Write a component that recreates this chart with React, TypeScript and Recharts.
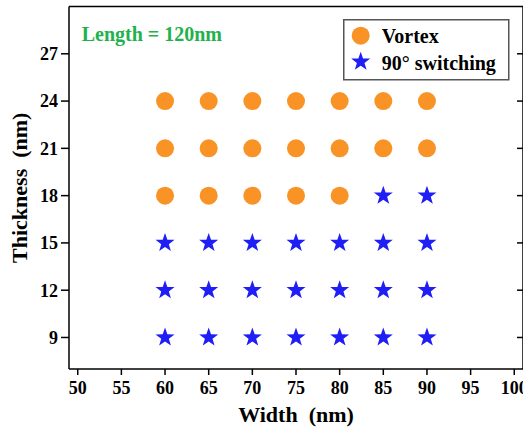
import React from 'react';
import { ScatterChart, Scatter, XAxis, YAxis, Legend } from 'recharts';

const widthTicks = [50, 55, 60, 65, 70, 75, 80, 85, 90, 95, 100];
const thicknessTicks = [9, 12, 15, 18, 21, 24, 27];

// [width, thickness] pairs
const vortexPoints = [
    [60, 24], [65, 24], [70, 24], [75, 24], [80, 24], [85, 24], [90, 24],
    [60, 21], [65, 21], [70, 21], [75, 21], [80, 21], [85, 21], [90, 21],
    [60, 18], [65, 18], [70, 18], [75, 18], [80, 18],
];
const switchingPoints = [
    [85, 18], [90, 18],
    [60, 15], [65, 15], [70, 15], [75, 15], [80, 15], [85, 15], [90, 15],
    [60, 12], [65, 12], [70, 12], [75, 12], [80, 12], [85, 12], [90, 12],
    [60, 9], [65, 9], [70, 9], [75, 9], [80, 9], [85, 9], [90, 9],
];

const FONT = '"Liberation Serif", "Times New Roman", serif';
const ORANGE = '#FA9325';
const BLUE = '#1F1FF5';
const GREEN = '#22B14C';

const X_DOMAIN = [49, 101];
const Y_DOMAIN = [7, 30];

const toXY = (pts: number[][]) => pts.map(([x, y]) => ({ x, y }));

const starPath = (cx: number, cy: number, R: number, r: number) => {
    const pts: string[] = [];
    for (let i = 0; i < 10; i++) {
        const rad = i % 2 === 0 ? R : r;
        const a = -Math.PI / 2 + (i * Math.PI) / 5;
        pts.push(`${cx + rad * Math.cos(a)},${cy + rad * Math.sin(a)}`);
    }
    return pts.join(' ');
};

const Dot = (props: any) => <circle cx={props.cx} cy={props.cy} r={9} fill={ORANGE} />;
const Star = (props: any) => <polygon points={starPath(props.cx, props.cy, 10, 4)} fill={BLUE} />;

const LegendBox = () => (
    <svg width={167} height={62} style={{ display: 'block' }}>
        <rect x={0.75} y={0.75} width={165} height={60} fill="#fff" stroke="#555" strokeWidth={1.5} />
        <circle cx={17.7} cy={16.7} r={9} fill={ORANGE} />
        <text x={38.7} y={24.3} fontFamily={FONT} fontWeight="bold" fontSize={20} fill="#000">Vortex</text>
        <polygon points={starPath(17.7, 42.7, 10, 4)} fill={BLUE} />
        <text x={38.7} y={51} fontFamily={FONT} fontWeight="bold" fontSize={20} fill="#000">90° switching</text>
    </svg>
);

const tickStyle = { fontFamily: FONT, fontWeight: 'bold', fontSize: 18, fill: '#000' };
const axisLine = { stroke: '#000', strokeWidth: 1.5 };

const App: React.FC = () => {
    return (
        <div style={{ position: 'absolute', left: 0, top: 0, width: 523, height: 435, background: '#fff' }}>
            <ScatterChart width={523} height={435} margin={{ top: 6.5, right: 0, bottom: 0, left: 0 }}>
                <XAxis
                    xAxisId="bottom"
                    type="number"
                    dataKey="x"
                    domain={X_DOMAIN}
                    ticks={widthTicks}
                    allowDataOverflow
                    height={66}
                    axisLine={axisLine}
                    tickLine={axisLine}
                    tickSize={6}
                    tickMargin={6}
                    tick={tickStyle}
                    interval={0}
                    label={{ value: 'Width \u00A0(nm)', position: 'insideBottom', offset: 13, style: { fontFamily: FONT, fontWeight: 'bold', fontSize: 22, fill: '#000' } }}
                />
                <XAxis
                    xAxisId="top"
                    orientation="top"
                    type="number"
                    domain={X_DOMAIN}
                    ticks={widthTicks}
                    allowDataOverflow
                    height={1.5}
                    mirror
                    axisLine={axisLine}
                    tickLine={axisLine}
                    tickSize={5}
                    tickFormatter={() => ''}
                    interval={0}
                />
                <YAxis
                    yAxisId="left"
                    type="number"
                    dataKey="y"
                    domain={Y_DOMAIN}
                    ticks={thicknessTicks}
                    allowDataOverflow
                    width={69}
                    axisLine={axisLine}
                    tickLine={axisLine}
                    tickSize={8}
                    tickMargin={3}
                    tick={tickStyle}
                    interval={0}
                    label={{ value: 'Thickness \u00A0(nm)', angle: -90, position: 'insideLeft', offset: 19, style: { fontFamily: FONT, fontWeight: 'bold', fontSize: 22, fill: '#000', textAnchor: 'middle' } }}
                />
                <YAxis
                    yAxisId="right"
                    orientation="right"
                    type="number"
                    domain={Y_DOMAIN}
                    ticks={thicknessTicks}
                    allowDataOverflow
                    width={6}
                    mirror
                    axisLine={axisLine}
                    tickLine={axisLine}
                    tickSize={6}
                    tickFormatter={() => ''}
                    interval={0}
                />
                <Scatter xAxisId="bottom" yAxisId="left" name="Vortex" data={toXY(vortexPoints)} shape={Dot} isAnimationActive={false} />
                <Scatter xAxisId="bottom" yAxisId="left" name="90° switching" data={toXY(switchingPoints)} shape={Star} isAnimationActive={false} />
                <Legend
                    layout="vertical"
                    align="center"
                    verticalAlign="middle"
                    wrapperStyle={{ left: 343, top: 19, width: 167 }}
                    content={() => <LegendBox />}
                />
            </ScatterChart>
            <div
                style={{
                    position: 'absolute',
                    left: 81.7,
                    top: 24,
                    fontFamily: FONT,
                    fontWeight: 'bold',
                    fontSize: 20,
                    lineHeight: '20px',
                    color: GREEN,
                    whiteSpace: 'nowrap',
                }}
            >
                Length = 120nm
            </div>
        </div>
    );
};

export default App;
